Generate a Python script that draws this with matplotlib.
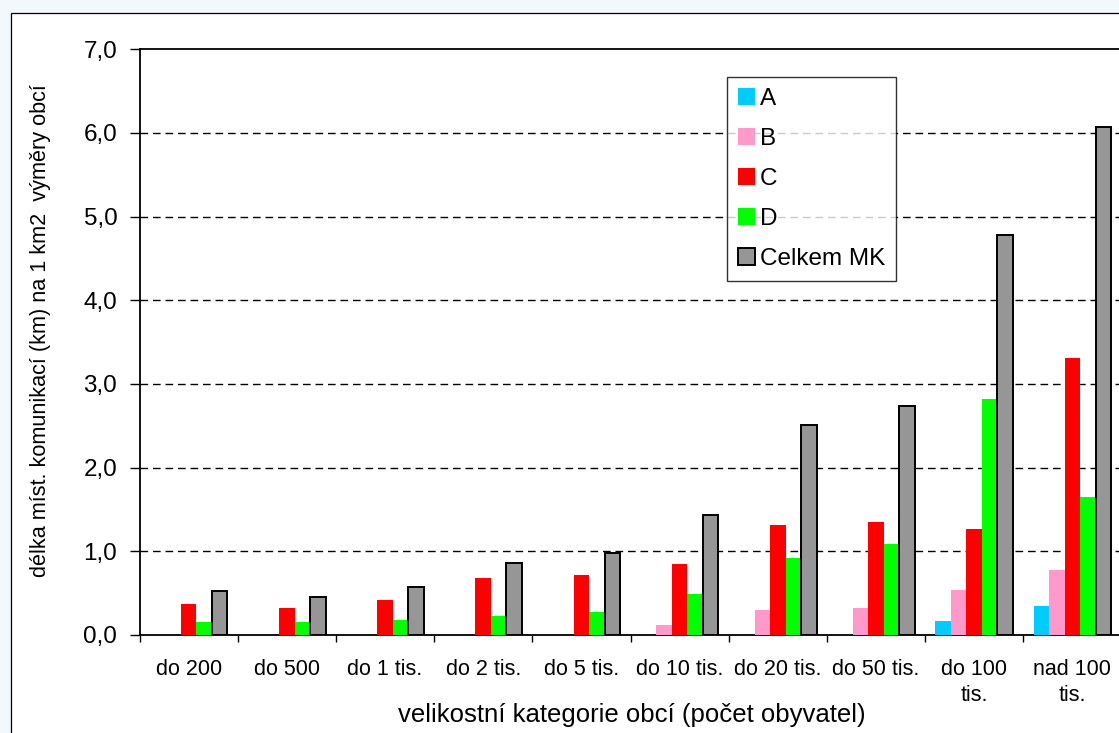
import matplotlib.pyplot as plt
from matplotlib.patches import Rectangle
import numpy as np

plt.rcParams['font.family'] = ['Liberation Sans', 'DejaVu Sans']

kategorie = ['do 200', 'do 500', 'do 1 tis.', 'do 2 tis.', 'do 5 tis.',
             'do 10 tis.', 'do 20 tis.', 'do 50 tis.', 'do 100\ntis.', 'nad 100\ntis.']
a_vals = [0.0, 0.0, 0.0, 0.0, 0.0, 0.0, 0.0, 0.0, 0.17, 0.35]
b_vals = [0.0, 0.0, 0.0, 0.0, 0.0, 0.12, 0.30, 0.32, 0.54, 0.78]
c_vals = [0.37, 0.32, 0.42, 0.68, 0.72, 0.85, 1.32, 1.35, 1.27, 3.31]
d_vals = [0.155, 0.155, 0.18, 0.23, 0.27, 0.49, 0.92, 1.09, 2.82, 1.65]
celkem = [0.53, 0.45, 0.57, 0.86, 0.98, 1.44, 2.51, 2.74, 4.78, 6.07]

serie = [('A', a_vals, '#00CCFF'), ('B', b_vals, '#FF99CC'), ('C', c_vals, '#FF0000'),
         ('D', d_vals, '#00FF00'), ('Celkem MK', celkem, '#969696')]

W, H = 1119, 733
fig = plt.figure(figsize=(W / 100, H / 100), dpi=100)
fig.patch.set_facecolor('#F3F8FC')
fig.patches.append(Rectangle((11 / W, -0.05), 1.1, 1 - 13 / H + 0.05, transform=fig.transFigure,
                             facecolor='white', edgecolor='black', linewidth=0.9, zorder=-1))

ax = fig.add_axes([139.5 / W, 1 - 635 / H, (1121.5 - 139.5) / W, (635 - 49.3) / H])
ax.set_facecolor('white')

x = np.arange(len(kategorie))
sirka = 0.158
for i, (nazev, vals, barva) in enumerate(serie):
    if nazev == 'Celkem MK':
        ax.bar(x + (i - 2) * sirka, vals, sirka, color=barva, edgecolor='black', linewidth=1.4,
               label=nazev, zorder=3)
    else:
        ax.bar(x + (i - 2) * sirka, vals, sirka, color=barva, linewidth=0, label=nazev, zorder=3)

ax.set_xlim(-0.5, len(kategorie) - 0.5)
ax.set_ylim(0, 7)
ax.set_yticks(np.arange(0, 8, 1))
ax.set_yticklabels([('%.1f' % v).replace('.', ',') for v in np.arange(0, 8, 1)])
ax.tick_params(axis='y', labelsize=17.5, length=7, width=1, pad=9, color='black')

ax.set_xticks(x)
ax.set_xticklabels(kategorie, fontsize=15.5, linespacing=1.35, va='top')
ax.set_xticks(np.arange(-0.5, len(kategorie), 1), minor=True)
ax.tick_params(axis='x', which='major', length=0, pad=17)
ax.tick_params(axis='x', which='minor', length=5, width=1, color='black')

for v in range(1, 7):
    ax.axhline(v, color='black', linewidth=1, dashes=(5.5, 3.5), zorder=1)

for s in ax.spines.values():
    s.set_color('black')
    s.set_linewidth(1.3)

leg = ax.legend(loc='upper left', bbox_to_anchor=(727 / W, 1 - 77 / H),
                bbox_transform=fig.transFigure, fontsize=17.5, frameon=True, fancybox=False,
                borderaxespad=0, borderpad=0.45, handlelength=0.7, handleheight=0.7,
                handletextpad=0.2, labelspacing=0.74)
leg.get_frame().set_edgecolor('black')
leg.get_frame().set_linewidth(1)
leg.set_zorder(5)

fig.text(632 / W, 1 - 722 / H, 'velikostní kategorie obcí (počet obyvatel)', fontsize=18.5,
         ha='center', va='baseline')
fig.text(41 / W, 1 - 331 / H, 'délka míst. komunikací (km) na 1 km2  výměry obcí', fontsize=15.6,
         rotation=90, ha='center', va='center')

fig.savefig('out.png', dpi=100, facecolor=fig.get_facecolor())
